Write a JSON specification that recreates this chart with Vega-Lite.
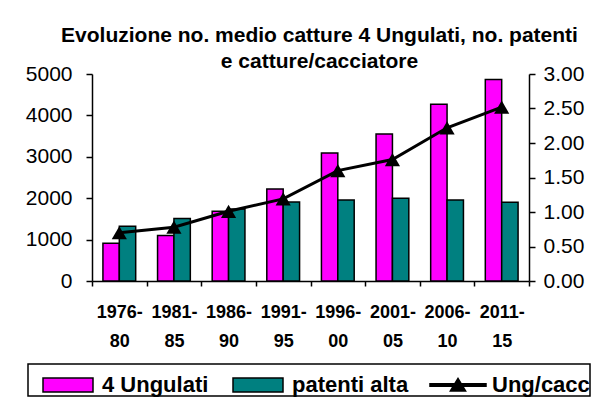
{
  "$schema": "https://vega.github.io/schema/vega-lite/v6.json",
  "autosize": {"type": "none"},
  "padding": {"left": 92, "top": 74, "right": 64, "bottom": 124},
  "width": 437,
  "height": 207,
  "background": "white",
  "config": {
    "view": {"stroke": null},
    "font": "Liberation Sans"
  },
  "title": {
    "text": ["Evoluzione no. medio catture 4  Ungulati, no. patenti", "e catture/cacciatore"],
    "font": "Liberation Sans",
    "fontSize": 21,
    "fontWeight": "bold",
    "color": "black",
    "lineHeight": 26,
    "anchor": "middle",
    "dx": 9,
    "offset": -9
  },
  "data": {
    "values": [
      {"periodo": "1976-80", "serie": "4 Ungulati", "valore": 910},
      {"periodo": "1981-85", "serie": "4 Ungulati", "valore": 1100},
      {"periodo": "1986-90", "serie": "4 Ungulati", "valore": 1685},
      {"periodo": "1991-95", "serie": "4 Ungulati", "valore": 2220},
      {"periodo": "1996-00", "serie": "4 Ungulati", "valore": 3090},
      {"periodo": "2001-05", "serie": "4 Ungulati", "valore": 3550},
      {"periodo": "2006-10", "serie": "4 Ungulati", "valore": 4270},
      {"periodo": "2011-15", "serie": "4 Ungulati", "valore": 4870},
      {"periodo": "1976-80", "serie": "patenti alta", "valore": 1320},
      {"periodo": "1981-85", "serie": "patenti alta", "valore": 1510},
      {"periodo": "1986-90", "serie": "patenti alta", "valore": 1740},
      {"periodo": "1991-95", "serie": "patenti alta", "valore": 1910},
      {"periodo": "1996-00", "serie": "patenti alta", "valore": 1955},
      {"periodo": "2001-05", "serie": "patenti alta", "valore": 2000},
      {"periodo": "2006-10", "serie": "patenti alta", "valore": 1955},
      {"periodo": "2011-15", "serie": "patenti alta", "valore": 1900},
      {"periodo": "1976-80", "serie": "Ung/cacc", "valore": 0.70},
      {"periodo": "1981-85", "serie": "Ung/cacc", "valore": 0.78},
      {"periodo": "1986-90", "serie": "Ung/cacc", "valore": 1.01},
      {"periodo": "1991-95", "serie": "Ung/cacc", "valore": 1.19},
      {"periodo": "1996-00", "serie": "Ung/cacc", "valore": 1.60},
      {"periodo": "2001-05", "serie": "Ung/cacc", "valore": 1.76},
      {"periodo": "2006-10", "serie": "Ung/cacc", "valore": 2.22},
      {"periodo": "2011-15", "serie": "Ung/cacc", "valore": 2.52}
    ]
  },
  "encoding": {
    "x": {
      "field": "periodo",
      "type": "nominal",
      "sort": null,
      "scale": {"paddingInner": 0, "paddingOuter": 0},
      "axis": {
        "title": null,
        "labelAngle": 0,
        "labelExpr": "[slice(datum.label, 0, 5), slice(datum.label, 5)]",
        "labelFont": "Liberation Sans",
        "labelFontSize": 18,
        "labelFontWeight": "bold",
        "labelColor": "black",
        "labelLineHeight": 29,
        "labelPadding": 17,
        "tickBand": "extent",
        "tickSize": 5,
        "tickColor": "black",
        "tickWidth": 1.5,
        "domainColor": "black",
        "domainWidth": 1.5
      }
    }
  },
  "layer": [
    {
      "transform": [{"filter": "datum.serie !== 'Ung/cacc'"}],
      "mark": {"type": "bar", "stroke": "black", "strokeWidth": 1.5},
      "encoding": {
        "xOffset": {
          "field": "serie",
          "type": "nominal",
          "sort": ["4 Ungulati", "patenti alta"],
          "scale": {"paddingInner": 0, "paddingOuter": 0.667}
        },
        "y": {
          "field": "valore",
          "type": "quantitative",
          "scale": {"domain": [0, 5000], "nice": false},
          "axis": {
            "title": null,
            "values": [0, 1000, 2000, 3000, 4000, 5000],
            "format": "d",
            "grid": false,
            "labelFont": "Liberation Sans",
            "labelFontSize": 21,
            "labelColor": "black",
            "labelPadding": 14,
            "tickSize": 6,
            "tickColor": "black",
            "tickWidth": 1.5,
            "domainColor": "black",
            "domainWidth": 1.5
          }
        },
        "color": {
          "field": "serie",
          "type": "nominal",
          "scale": {
            "domain": ["4 Ungulati", "patenti alta", "Ung/cacc"],
            "range": ["#FF00FF", "#008080", "black"]
          },
          "legend": {
            "title": null,
            "orient": "none",
            "legendX": -64,
            "legendY": 290,
            "direction": "horizontal",
            "columns": 3,
            "columnPadding": 9,
            "labelOffset": 13,
            "symbolOffset": 19,
            "labelFont": "Liberation Sans",
            "labelFontSize": 22,
            "labelFontWeight": "bold",
            "labelColor": "black",
            "labelLimit": 300,
            "symbolSize": 1600,
            "symbolType": "M-1.25,-0.35H1.25V0.35H-1.25Z",
            "symbolStrokeColor": "black",
            "symbolStrokeWidth": 1.5,
            "symbolOpacity": 1,
            "strokeColor": "black",
            "padding": 0,
            "fillColor": "white",
            "encode": {
              "legend": {"update": {"strokeWidth": {"value": 1.5}}},
              "symbols": {
                "update": {
                  "shape": {"signal": "datum.value === 'Ung/cacc' ? 'M-1.4,-0.06H1.4V0.06H-1.4ZM-0.38,0.3L0,-0.33L0.38,0.3Z' : 'M-1.25,-0.35H1.25V0.35H-1.25Z'"},
                  "stroke": {"value": "black"}
                }
              }
            }
          }
        }
      }
    },
    {
      "transform": [{"filter": "datum.serie === 'Ung/cacc'"}],
      "mark": {
        "type": "line",
        "color": "black",
        "strokeWidth": 3,
        "point": {"shape": "triangle-up", "size": 230, "filled": true, "color": "black"}
      },
      "encoding": {
        "y": {
          "field": "valore",
          "type": "quantitative",
          "scale": {"domain": [0, 3], "nice": false},
          "axis": {
            "orient": "right",
            "title": null,
            "values": [0, 0.5, 1, 1.5, 2, 2.5, 3],
            "format": ".2f",
            "grid": false,
            "labelFont": "Liberation Sans",
            "labelFontSize": 21,
            "labelColor": "black",
            "labelPadding": 8,
            "tickSize": 6,
            "tickColor": "black",
            "tickWidth": 1.5,
            "domainColor": "black",
            "domainWidth": 1.5
          }
        }
      }
    }
  ],
  "resolve": {"scale": {"y": "independent"}}
}
